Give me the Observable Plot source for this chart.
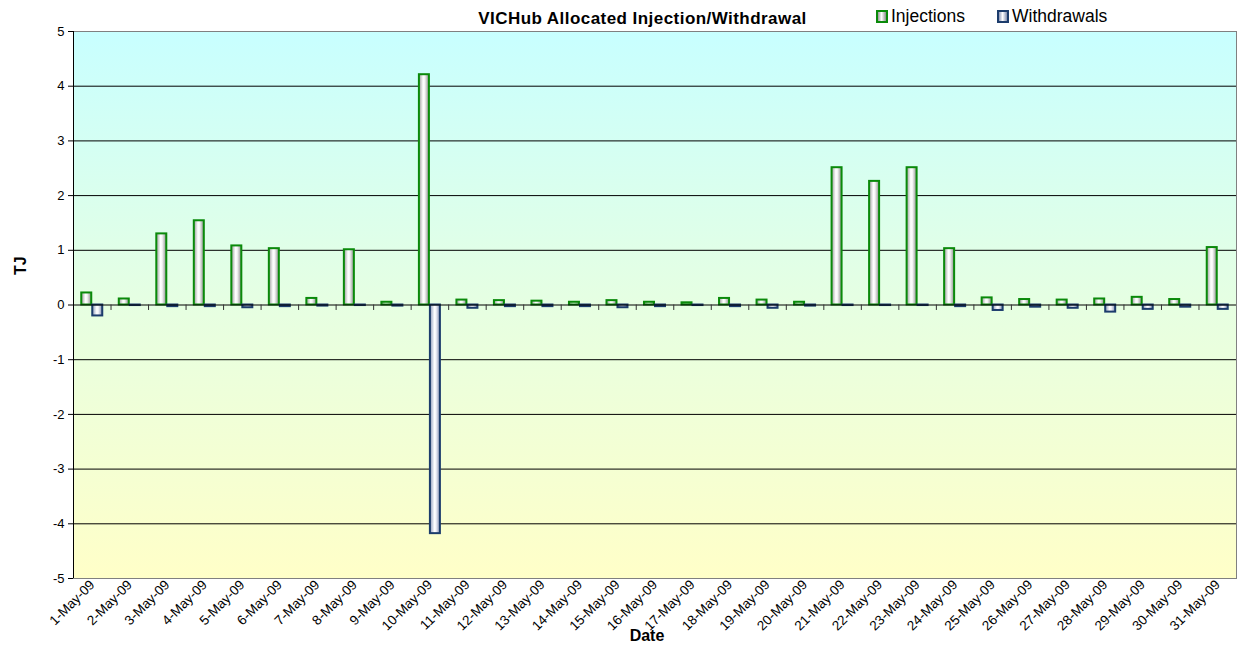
<!DOCTYPE html>
<html>
<head>
<meta charset="utf-8">
<script src="https://cdn.jsdelivr.net/npm/d3@7"></script>
<script src="https://cdn.jsdelivr.net/npm/@observablehq/plot@0.6"></script>
<style>
  body { margin: 0; background: #ffffff; font-family: "Liberation Sans", Arial, sans-serif; }
  #wrap { position: relative; width: 1237px; height: 652px; overflow: hidden; }
  #chart { position: absolute; left: 0; top: 0; }
  .title { position: absolute; left: 642.5px; top: 11px; transform: translateX(-50%); font-weight: bold; font-size: 17px; line-height: 16px; letter-spacing: 0.45px; white-space: nowrap; color: #000; }
  .leg { position: absolute; top: 8px; font-size: 17.5px; line-height: 17px; white-space: nowrap; color: #000; }
  .sw { position: absolute; top: 10px; width: 8px; height: 9px; border: 2px solid; }
</style>
</head>
<body>
<div id="wrap">
  <div id="chart"></div>
</div>
<script>
// ---- data ----
const dates = ["1-May-09","2-May-09","3-May-09","4-May-09","5-May-09","6-May-09","7-May-09","8-May-09","9-May-09","10-May-09","11-May-09","12-May-09","13-May-09","14-May-09","15-May-09","16-May-09","17-May-09","18-May-09","19-May-09","20-May-09","21-May-09","22-May-09","23-May-09","24-May-09","25-May-09","26-May-09","27-May-09","28-May-09","29-May-09","30-May-09","31-May-09"];
const injections = [0.22,0.11,1.30,1.54,1.08,1.03,0.12,1.01,0.05,4.21,0.09,0.08,0.07,0.05,0.08,0.05,0.04,0.12,0.09,0.05,2.51,2.26,2.51,1.03,0.13,0.10,0.09,0.11,0.14,0.10,1.05];
const withdrawals = [-0.20,-0.01,-0.03,-0.03,-0.05,-0.03,-0.02,-0.01,-0.02,-4.18,-0.06,-0.03,-0.03,-0.03,-0.05,-0.03,-0.01,-0.03,-0.06,-0.02,-0.01,-0.01,-0.01,-0.03,-0.10,-0.04,-0.06,-0.13,-0.08,-0.04,-0.08];
const yTicks = [-5,-4,-3,-2,-1,0,1,2,3,4,5];
const seriesNames = ["Injections","Withdrawals"];
const chartTitle = "VICHub Allocated Injection/Withdrawal";
const xTitle = "Date";
const yTitle = "TJ";

// ---- layout ----
const W = 1237, H = 652, mL = 73, mR = 1, mT = 31, mB = 74;
const step = (W - mL - mR) / dates.length;
const c = step / 2;
const barW = 10;

const injRows = dates.map((d, i) => ({date: d, value: injections[i]}));
const wdRows = dates.map((d, i) => ({date: d, value: withdrawals[i]}));

const svg = Plot.plot({
  width: W, height: H,
  marginLeft: mL, marginRight: mR, marginTop: mT, marginBottom: mB,
  style: {fontFamily: "'Liberation Sans', Arial, sans-serif", background: "transparent", color: "#000"},
  x: {type: "band", domain: dates, padding: 0, round: false, label: null},
  y: {domain: [-5, 5], label: null},
  marks: [
    Plot.frame({fill: "url(#bgGrad)", stroke: "#808080", strokeWidth: 1}),
    Plot.ruleY(yTicks.filter(v => v > -5 && v < 5 && v !== 0), {stroke: "#000", strokeWidth: 1}),
    Plot.barY(injRows, {x: "date", y: "value", fill: "url(#gInj)", stroke: "#0a8a0a", strokeWidth: 2, insetLeft: c - barW - 0.5, insetRight: c + 0.5}),
    Plot.barY(wdRows, {x: "date", y: "value", fill: "url(#gWd)", stroke: "#1c3c6c", strokeWidth: 2, insetLeft: c + 0.5, insetRight: c - barW - 0.5}),
    Plot.ruleY([0], {stroke: "#000", strokeWidth: 1.2}),
    Plot.ruleX(dates.slice(1), {x: d => d, y1: 0, y2: -0.1, dx: -c, stroke: "#333", strokeWidth: 1}),
    Plot.ruleX([dates[0]], {x: d => d, y1: -5, y2: 5, dx: -c, stroke: "#000", strokeWidth: 1}),
    Plot.axisY({ticks: yTicks, tickSize: 5, tickPadding: 4, fontSize: 13, tickFormat: d => String(d), label: null}),
    Plot.axisX({tickRotate: -45, tickSize: 0, tickPadding: 4, fontSize: 13.5, label: null}),
    Plot.text([xTitle], {text: d => d, frameAnchor: "bottom", dy: 62, dx: -8, fontWeight: "bold", fontSize: 16}),
    Plot.text([yTitle], {text: d => d, frameAnchor: "left", dx: -53, dy: -30, rotate: -90, fontWeight: "bold", fontSize: 16})
  ]
});

const ns = "http://www.w3.org/2000/svg";
const defs = document.createElementNS(ns, "defs");
defs.innerHTML = `
  <linearGradient id="bgGrad" x1="0" y1="0" x2="0" y2="1">
    <stop offset="0" stop-color="#c8ffff"/>
    <stop offset="0.5" stop-color="#e6ffe2"/>
    <stop offset="1" stop-color="#ffffc8"/>
  </linearGradient>
  <linearGradient id="gInj" x1="0" y1="0" x2="1" y2="0">
    <stop offset="0" stop-color="#9a9a9a"/>
    <stop offset="0.42" stop-color="#ffffff"/>
    <stop offset="0.58" stop-color="#f6f6f6"/>
    <stop offset="1" stop-color="#8c8c8c"/>
  </linearGradient>
  <linearGradient id="gWd" x1="0" y1="0" x2="1" y2="0">
    <stop offset="0" stop-color="#8c98b8"/>
    <stop offset="0.45" stop-color="#ffffff"/>
    <stop offset="0.6" stop-color="#f4f4fa"/>
    <stop offset="1" stop-color="#7f8cae"/>
  </linearGradient>`;
svg.insertBefore(defs, svg.firstChild);
document.getElementById("chart").appendChild(svg);

// ---- title & legend ----
const wrap = document.getElementById("wrap");
const t = document.createElement("div");
t.className = "title";
t.textContent = chartTitle;
wrap.appendChild(t);

const legendItems = [
  {name: seriesNames[0], sx: 876, tx: 891, border: "#0a8a0a", bg: "linear-gradient(to right,#9a9a9a,#ffffff 45%,#8c8c8c)"},
  {name: seriesNames[1], sx: 997, tx: 1012, border: "#1c3c6c", bg: "linear-gradient(to right,#8c98b8,#ffffff 45%,#7f8cae)"}
];
for (const it of legendItems) {
  const s = document.createElement("div");
  s.className = "sw";
  s.style.left = it.sx + "px";
  s.style.borderColor = it.border;
  s.style.background = it.bg;
  wrap.appendChild(s);
  const l = document.createElement("div");
  l.className = "leg";
  l.style.left = it.tx + "px";
  l.textContent = it.name;
  wrap.appendChild(l);
}
</script>
</body>
</html>
